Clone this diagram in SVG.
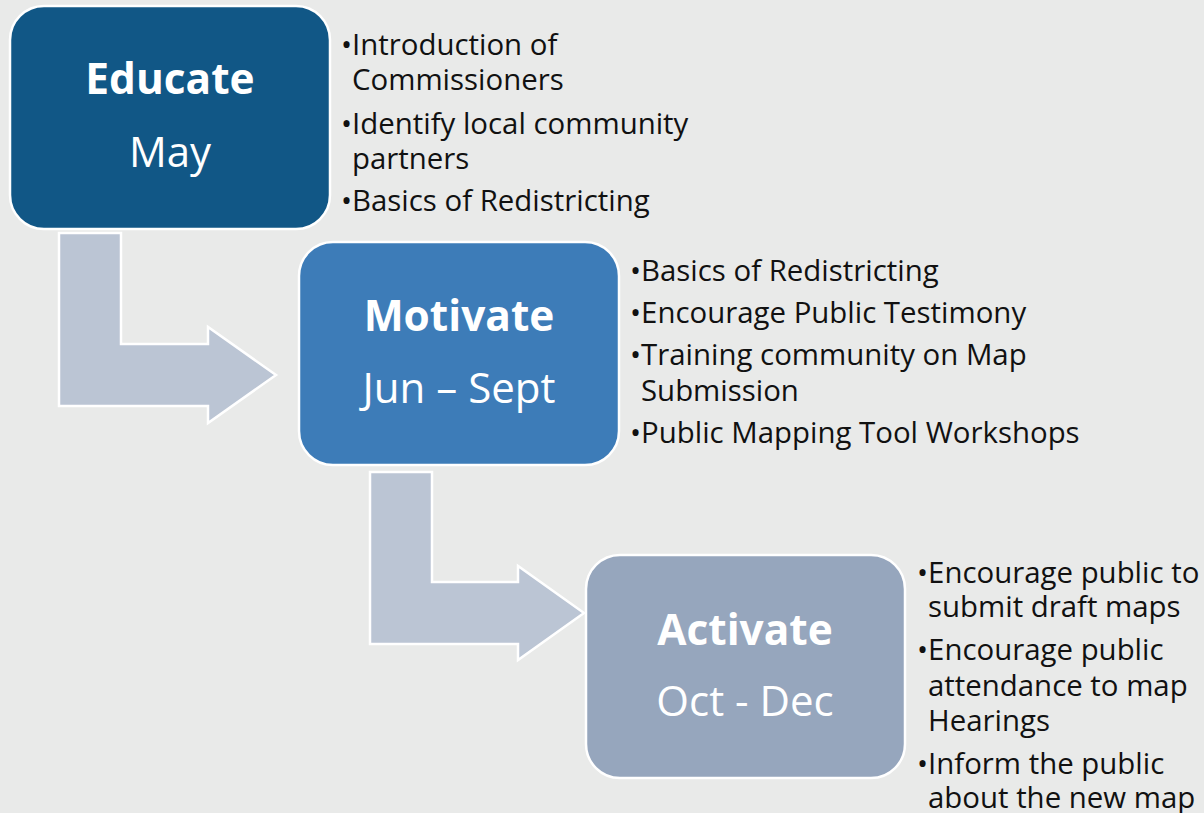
<svg xmlns="http://www.w3.org/2000/svg" width="1204" height="813" viewBox="0 0 1204 813">
<style>
.bg{fill:#E9EAE9}
.box{stroke:#FFFFFF;stroke-width:2.5}
.arrow{fill:#BBC5D4;stroke:#FFFFFF;stroke-width:2.5}
.title{font-family:"Open Sans","Liberation Sans",sans-serif;font-size:42.4px;font-weight:bold;fill:#FFFFFF;text-anchor:middle}
.sub{font-family:"Open Sans","Liberation Sans",sans-serif;font-size:42px;font-weight:normal;fill:#FFFFFF;text-anchor:middle}
.bul{font-family:"Open Sans","Liberation Sans",sans-serif;font-size:29.4px;fill:#111111}
</style>
<rect class="bg" x="0" y="0" width="1204" height="813"/>
<g id="connectors">
<polygon class="arrow" points="59,233 121,233 121,344 208,344 208,327 276,375 208,423 208,406 59,406"/>
<polygon class="arrow" points="370,472 432,472 432,582 518,582 518,566 584,613 518,660 518,644 370,644"/>
</g>
<g id="educate">
<rect class="box" x="10" y="6" width="320" height="223" rx="34" fill="#115786"/>
<text class="title" x="170" y="94">Educate</text>
<text class="sub" x="170" y="167">May</text>
</g>
<g id="educate-notes" class="bul">
<text x="341" y="55">•Introduction of</text>
<text x="352" y="90">Commissioners</text>
<text x="341" y="134">•Identify local community</text>
<text x="352" y="169">partners</text>
<text x="341" y="211">•Basics of Redistricting</text>
</g>
<g id="motivate">
<rect class="box" x="299" y="242" width="320" height="223" rx="34" fill="#3D7CB8"/>
<text class="title" x="459" y="331">Motivate</text>
<text class="sub" x="459" y="403">Jun – Sept</text>
</g>
<g id="motivate-notes" class="bul">
<text x="630" y="281">•Basics of Redistricting</text>
<text x="630" y="323">•Encourage Public Testimony</text>
<text x="630" y="365">•Training community on Map</text>
<text x="641" y="401">Submission</text>
<text x="630" y="443">•Public Mapping Tool Workshops</text>
</g>
<g id="activate">
<rect class="box" x="586" y="555" width="319" height="223" rx="34" fill="#96A6BD"/>
<text class="title" x="745" y="645">Activate</text>
<text class="sub" x="745" y="716">Oct - Dec</text>
</g>
<g id="activate-notes" class="bul">
<text x="917" y="583">•Encourage public to</text>
<text x="928" y="617">submit draft maps</text>
<text x="917" y="660">•Encourage public</text>
<text x="928" y="696">attendance to map</text>
<text x="928" y="731">Hearings</text>
<text x="917" y="774">•Inform the public</text>
<text x="928" y="808">about the new map</text>
</g>
</svg>
